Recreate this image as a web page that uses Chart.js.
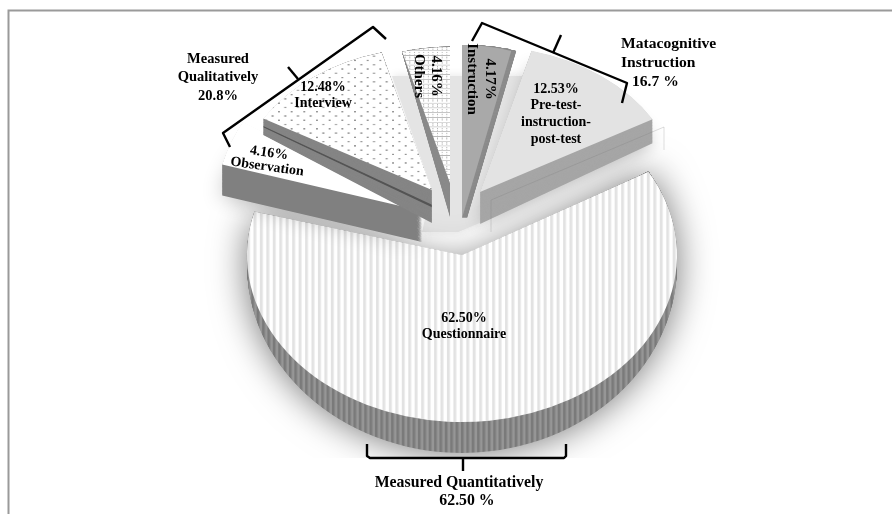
<!DOCTYPE html>
<html>
<head>
<meta charset="utf-8">
<style>
  html, body { margin: 0; padding: 0; background: #fff; }
  #wrap { width: 892px; height: 514px; }
</style>
<script src="https://cdn.jsdelivr.net/npm/chart.js@4"></script>
</head>
<body>
<div id="wrap"><canvas id="chart" width="892" height="514"></canvas></div>
<script>
const categories = ['Instruction', 'Pre-test-instruction-post-test', 'Questionnaire', 'Observation', 'Interview', 'Others'];
const percentValues = [4.17, 12.53, 62.5, 4.16, 12.48, 4.16];

const groupLabels = [
  { lines: ['Measured', 'Qualitatively', '20.8%'], x: 218, ys: [59, 77, 96], align: 'center', size: 14.5 },
  { lines: ['Matacognitive', 'Instruction'], x: 621, ys: [44, 63], align: 'left', size: 15.6 },
  { lines: ['16.7 %'], x: 632, ys: [82], align: 'left', size: 15.6 },
  { lines: ['Measured Quantitatively'], x: 459, ys: [483], align: 'center', size: 15.8 },
  { lines: ['62.50 %'], x: 467, ys: [501], align: 'center', size: 15.8 }
];
const sliceLabels = [
  { lines: ['4.17%', 'Instruction'], x: 481, y: 79, gap: 18, angle: 90, size: 15 },
  { lines: ['12.53%', 'Pre-test-', 'instruction-', 'post-test'], x: 556, y: 114, gap: 16.6, angle: 0, size: 14 },
  { lines: ['62.50%', 'Questionnaire'], x: 464, y: 326, gap: 16, angle: 0, size: 14 },
  { lines: ['4.16%', 'Observation'], x: 268, y: 160, gap: 14, angle: 8, size: 14 },
  { lines: ['12.48%', 'Interview'], x: 323, y: 95, gap: 16, angle: 0, size: 14 },
  { lines: ['4.16%', 'Others'], x: 427, y: 76, gap: 17, angle: 90, size: 15 }
];

// where each exploded slice sits. wallX/wallY/wallK shape the side wall
const placement = [
  { cx: 462, cy: 218, r: 190, k: 0.91, wallX: 5, wallY: 0, wallK: 0 },
  { cx: 480, cy: 192, r: 199, k: 0.735, wallX: 0, wallY: 32, wallK: 0.08 },
  { cx: 462, cy: 255, r: 215, k: 0.777, wallX: 0, wallY: 10, wallK: 0.097 },
  { cx: 422, cy: 211, r: 207, k: 0.86, wallX: 0, wallY: 31, wallK: 0 },
  { cx: 432, cy: 190, r: 195, k: 0.73, wallX: 0, wallY: 33, wallK: 0.17 },
  { cx: 450, cy: 183, r: 185, k: 0.735, wallX: 0, wallY: 34, wallK: 0.185 }
];
const drawOrder = [2, 3, 4, 5, 0, 1];

function makePattern(w, h, paint) {
  const c = document.createElement('canvas');
  c.width = w;
  c.height = h;
  paint(c.getContext('2d'));
  return c.getContext('2d').createPattern(c, 'repeat');
}

const stripes = makePattern(6, 6, g => {
  g.fillStyle = '#fff'; g.fillRect(0, 0, 6, 6);
  g.fillStyle = '#e2e2e2'; g.fillRect(0, 0, 2.6, 6);
});
const wallStripes = makePattern(5, 5, g => {
  g.fillStyle = '#969696'; g.fillRect(0, 0, 5, 5);
  g.fillStyle = '#7a7a7a'; g.fillRect(0, 0, 2.5, 5);
});
const dots = makePattern(13, 12, g => {
  g.fillStyle = '#fff'; g.fillRect(0, 0, 13, 12);
  g.fillStyle = '#969696';
  g.fillRect(2, 2, 2, 2);
  g.fillRect(8.5, 8, 2, 2);
});
const grid = makePattern(5, 7, g => {
  g.fillStyle = '#fff'; g.fillRect(0, 0, 5, 7);
  g.fillStyle = '#b4b4b4';
  g.fillRect(0, 6, 5, 1);
  g.fillRect(2, 1, 1, 2);
  g.fillRect(2, 4, 1, 1);
});

const topColors = ['#a9a9a9', '#e3e3e3', stripes, '#ffffff', dots, grid];
const wallColors = ['#8c8c8c', '#a6a6a6', wallStripes, '#808080', '#858585', '#8a8a8a'];
const wallShadow = [null, { blur: 18, color: 'rgba(0,0,0,0.3)' }, { blur: 36, color: 'rgba(0,0,0,0.55)', clipY: 458 },
  { blur: 22, color: 'rgba(0,0,0,0.3)' }, null, null];

function place(ctx, arc, p, t) {
  const scale = p.r / arc.outerRadius;
  ctx.translate(p.cx + p.wallX * t, p.cy + p.wallY * t);
  ctx.scale(scale, (p.k + p.wallK * t) * scale);
  ctx.translate(-arc.x, -arc.y);
}

function drawWall(ctx, arc, i) {
  const p = placement[i];
  const steps = 40;
  for (let n = steps; n > 0; n--) {
    const t = n / steps;
    ctx.save();
    if (n === steps && wallShadow[i]) {
      if (wallShadow[i].clipY) {
        ctx.beginPath();
        ctx.rect(0, 0, 892, wallShadow[i].clipY);
        ctx.clip();
      }
      ctx.shadowBlur = wallShadow[i].blur;
      ctx.shadowColor = wallShadow[i].color;
    }
    place(ctx, arc, p, t);
    ctx.fillStyle = wallColors[i];
    // interview wall has a dark line running along it
    if (i === 4 && Math.abs(t - 0.5) < 0.03) ctx.fillStyle = '#555';
    ctx.beginPath();
    ctx.moveTo(arc.x, arc.y);
    ctx.arc(arc.x, arc.y, arc.outerRadius, arc.startAngle, arc.endAngle);
    ctx.closePath();
    ctx.fill();
    ctx.restore();
  }
}

function drawBackShade(ctx) {
  ctx.save();
  ctx.shadowBlur = 10;
  ctx.shadowColor = '#e4e4e4';
  ctx.fillStyle = '#e4e4e4';
  ctx.beginPath();
  ctx.moveTo(392, 76);
  ctx.lineTo(523, 76);
  ctx.lineTo(482, 222);
  ctx.lineTo(458, 232);
  ctx.lineTo(422, 232);
  ctx.lineTo(432, 190);
  ctx.closePath();
  ctx.fill();
  ctx.restore();
}

function polyline(ctx, pts) {
  ctx.beginPath();
  pts.forEach((pt, i) => (i ? ctx.lineTo(pt[0], pt[1]) : ctx.moveTo(pt[0], pt[1])));
  ctx.stroke();
}

function drawFrameAndBrackets(ctx) {
  ctx.save();
  ctx.strokeStyle = '#9a9a9a';
  ctx.lineWidth = 2;
  polyline(ctx, [[8.5, 514], [8.5, 10.5], [892, 10.5]]);

  // faint outline left over on the pre-test wall
  ctx.strokeStyle = 'rgba(120,120,120,0.25)';
  ctx.lineWidth = 1;
  polyline(ctx, [[491, 232], [491, 200], [664, 127], [664, 150]]);

  ctx.strokeStyle = '#000';
  ctx.lineWidth = 2.4;
  ctx.lineJoin = 'round';
  polyline(ctx, [[367, 444], [367, 456], [370, 458], [564, 458], [566, 456], [566, 444]]);
  polyline(ctx, [[463, 458], [463, 471]]);
  polyline(ctx, [[230, 147], [223, 133], [373, 27], [386, 39]]);
  polyline(ctx, [[288, 67], [298, 79]]);
  polyline(ctx, [[472, 41], [482, 23], [627, 83], [622, 103]]);
  polyline(ctx, [[553, 53], [561, 35]]);
  ctx.restore();
}

function drawLabels(ctx) {
  ctx.save();
  ctx.fillStyle = '#000';
  ctx.textBaseline = 'middle';
  groupLabels.forEach(g => {
    ctx.font = `bold ${g.size}px "Liberation Serif"`;
    ctx.textAlign = g.align;
    g.lines.forEach((line, i) => ctx.fillText(line, g.x, g.ys[i]));
  });
  ctx.textAlign = 'center';
  sliceLabels.forEach(s => {
    ctx.font = `bold ${s.size}px "Liberation Serif"`;
    ctx.save();
    ctx.translate(s.x, s.y);
    ctx.rotate(s.angle * Math.PI / 180);
    const top = -(s.lines.length - 1) * s.gap / 2;
    s.lines.forEach((line, i) => ctx.fillText(line, 0, top + i * s.gap));
    ctx.restore();
  });
  ctx.restore();
}

const explodedPie = {
  id: 'explodedPie',
  beforeDatasetDraw(chart, args) {
    const ctx = chart.ctx;
    const arcs = chart.getDatasetMeta(args.index).data;
    drawBackShade(ctx);
    drawOrder.forEach(i => {
      const arc = arcs[i];
      drawWall(ctx, arc, i);
      ctx.save();
      place(ctx, arc, placement[i], 0);
      arc.draw(ctx);
      ctx.restore();
    });
    return false;
  },
  afterDraw(chart) {
    drawFrameAndBrackets(chart.ctx);
    drawLabels(chart.ctx);
  }
};

new Chart(document.getElementById('chart'), {
  type: 'pie',
  data: {
    labels: categories,
    datasets: [{
      data: percentValues,
      backgroundColor: topColors,
      borderWidth: 0,
      clip: false
    }]
  },
  options: {
    responsive: false,
    animation: false,
    radius: 200,
    events: [],
    plugins: { legend: { display: false }, tooltip: { enabled: false } }
  },
  plugins: [explodedPie]
});
</script>
</body>
</html>
